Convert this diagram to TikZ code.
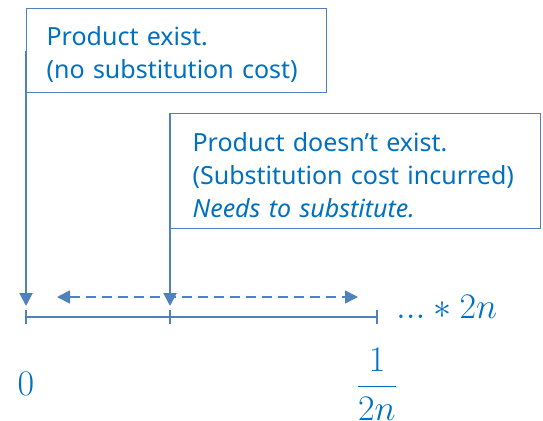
\RequirePackage{fix-cm}
\documentclass[tikz,border=0pt]{standalone}
\usepackage{amsmath}
\usepackage{fontspec}
\setmainfont{Noto Sans}
\usepackage{tikz}
\usetikzlibrary{arrows.meta,positioning}
\definecolor{boxblue}{HTML}{4F81BD}
\definecolor{txtblue}{HTML}{0070C0}
\tikzset{
  infobox/.style={draw=boxblue, line width=1.2pt, text=txtblue, align=left,
    anchor=north west, inner ysep=0pt, font=\fontsize{25}{33}\selectfont},
  pin/.style={draw=boxblue, line width=2pt, -{Triangle[length=13pt,width=13pt]}},
  span/.style={draw=boxblue, line width=1.6pt, dashed, dash pattern=on 10pt off 6pt,
    {Triangle[length=13pt,width=13pt]}-{Triangle[length=13pt,width=13pt]}},
  axis/.style={draw=boxblue, line width=1.2pt},
  lbl/.style={text=txtblue, font=\fontsize{36}{42}\selectfont, inner sep=0pt}
}
\begin{document}
\begin{tikzpicture}[x=1pt, y=-1pt]
  \useasboundingbox (0,0) rectangle (543,420);
  \node[infobox, inner xsep=20pt, text width=260pt, minimum height=84pt] (exist) at (26,8)
    {\rule{0pt}{27pt}Product exist.\\(no substitution cost)};
  \node[infobox, inner xsep=22pt, text width=326pt, minimum height=115pt] (noexist) at (170,113)
    {\rule{0pt}{27pt}Product doesn't exist.\\(Substitution cost incurred)\\\textit{Needs to substitute.}};
  \coordinate (t0) at (26,317);
  \coordinate (t1) at (170,317);
  \coordinate (t2) at (377,317);
  \coordinate (a0) at (26,306);
  \coordinate (a1) at (170,306);
  \coordinate (dl) at (57,297);
  \coordinate (dr) at (358,297);
  \draw[axis] (t0) -- (t2);
  \foreach \t in {t0,t1,t2}
    \draw[axis] ([yshift=7pt]\t) -- ([yshift=-7pt]\t);
  \draw[pin] (exist.west) -- (a0);
  \draw[pin] (noexist.north west) -- (a1);
  \draw[span] (dl) -- (dr);
  \node[lbl, anchor=base west] (dots) at (396,318) {$...\ast 2n$};
  \node[lbl] (zero) at (26,384) {$0$};
  \node[lbl] (frac) at (377,384) {$\dfrac{1}{2n}$};
\end{tikzpicture}
\end{document}
